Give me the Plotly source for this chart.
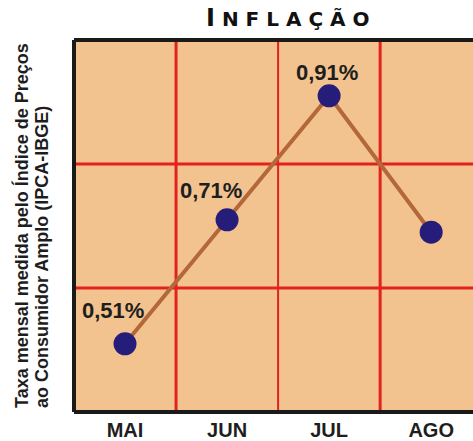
import plotly.graph_objects as go

# Monthly IPCA inflation (%)
months = ["MAI", "JUN", "JUL", "AGO"]
ipca = [0.51, 0.71, 0.91, 0.69]
value_labels = ["0,51%", "0,71%", "0,91%", None]

title_text = "INFLAÇÃO"
ytitle_lines = ["Taxa mensal medida pelo Índice de Preços",
                "ao Consumidor Amplo (IPCA-IBGE)"]

W, H = 473, 441
ML, MR, MT, MB = 74, 0, 40, 29
PW, PH = W - ML - MR, H - MT - MB

Y_RANGE = [0.4, 1.0]
Y_GRID = [0.6, 0.8]
X_RANGE = [-0.5, 3.41]

BG = "#F2C38F"
GRID = "#E3211D"
LINE = "#B4683A"
DOT = "#261C79"
INK = "#1E1E1E"
FONT = "Liberation Sans, Arial, sans-serif"


def px_x(p):
    return (p - ML) / PW


def px_y(p):
    return (H - MB - p) / PH


fig = go.Figure()

fig.add_trace(go.Scatter(
    x=months, y=ipca, mode="lines+markers",
    line=dict(color=LINE, width=4),
    marker=dict(color=DOT, size=23, line=dict(width=0)),
    hoverinfo="skip", showlegend=False,
))

shapes = []
# vertical grid lines between months
for i in range(len(months) - 1):
    shapes.append(dict(type="line", xref="x", yref="paper",
                       x0=i + 0.5, x1=i + 0.5, y0=0, y1=1,
                       line=dict(color=GRID, width=3 if i != 1 else 2),
                       layer="below"))
for g in Y_GRID:
    shapes.append(dict(type="line", xref="paper", yref="y",
                       x0=0, x1=1, y0=g, y1=g,
                       line=dict(color=GRID, width=3), layer="below"))
# frame: left, top, bottom
for (x0, y0, x1, y1) in [(0, 0, 0, 1), (0, 1, 1, 1), (0, 0, 1, 0)]:
    shapes.append(dict(type="line", xref="paper", yref="paper",
                       x0=x0, y0=y0, x1=x1, y1=y1,
                       line=dict(color="#1A1A1A", width=4), layer="above"))

annotations = []
offsets = [(-12, 33), (-16, 29), (-2, 23), (0, 0)]
for m, v, lab, (dx, dy) in zip(months, ipca, value_labels, offsets):
    if lab:
        annotations.append(dict(
            x=m, y=v, xref="x", yref="y", text=f"<b>{lab}</b>",
            showarrow=False, xshift=dx, yshift=dy,
            font=dict(family=FONT, size=22, color=INK),
        ))

# chart title with a larger initial and spaced letters
gap = " "
spaced = gap.join(title_text[1:])
annotations.append(dict(
    xref="paper", yref="paper", x=px_x(287), y=px_y(18),
    xanchor="center", yanchor="middle", showarrow=False,
    text=(f"<span style=\"font-size:24px\">{title_text[0]}</span>"
          f"{gap}{spaced}"),
    font=dict(family="DejaVu Sans", size=20, color="#111111",
              weight="bold"),
))

# two-line vertical axis caption
for cx, line in zip([21.5, 42], ytitle_lines):
    annotations.append(dict(
        xref="paper", yref="paper", x=px_x(cx), y=px_y(410),
        xanchor="center", yanchor="bottom", showarrow=False,
        textangle=-90, text=f"<b>{line}</b>",
        font=dict(family=FONT, size=18, color=INK),
    ))

fig.update_layout(
    width=W, height=H,
    margin=dict(l=ML, r=MR, t=MT, b=MB, pad=0),
    paper_bgcolor="white", plot_bgcolor=BG,
    xaxis=dict(type="category", range=X_RANGE, showgrid=False,
               zeroline=False, showline=False, ticks="",
               ticklabelstandoff=4,
               tickfont=dict(family=FONT, size=20, color=INK,
                             weight="bold"),
               fixedrange=True),
    yaxis=dict(range=Y_RANGE, showgrid=False, zeroline=False,
               showline=False, showticklabels=False, ticks="",
               fixedrange=True),
    shapes=shapes, annotations=annotations,
)

fig.write_html("out.html", config={"displayModeBar": False})
